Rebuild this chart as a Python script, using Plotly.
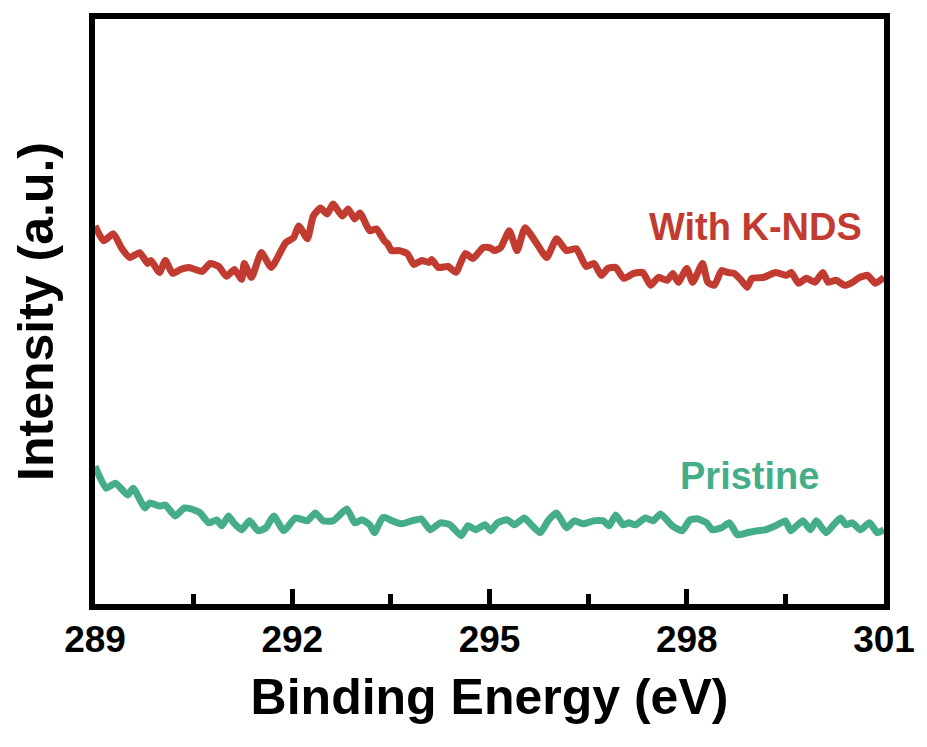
import plotly.graph_objects as go

# Binding energy (eV) and intensity (a.u.)
energy_knds = [289.00, 289.13, 289.28, 289.40, 289.53, 289.68, 289.80, 289.85, 289.98, 290.07,
               290.18, 290.30, 290.43, 290.63, 290.75, 290.88, 291.00, 291.12, 291.23, 291.27,
               291.38, 291.53, 291.68, 291.90, 292.02, 292.10, 292.23, 292.32, 292.43, 292.53,
               292.62, 292.76, 292.85, 292.95, 293.03, 293.18, 293.28, 293.40, 293.45, 293.51,
               293.63, 293.75, 293.85, 293.97, 294.08, 294.12, 294.22, 294.37, 294.49, 294.63,
               294.75, 294.90, 295.00, 295.08, 295.17, 295.30, 295.42, 295.54, 295.72, 295.87,
               296.02, 296.17, 296.32, 296.47, 296.59, 296.70, 296.80, 296.92, 297.04, 297.19,
               297.33, 297.45, 297.57, 297.70, 297.79, 297.87, 298.00, 298.09, 298.24, 298.32,
               298.42, 298.53, 298.62, 298.72, 298.83, 298.92, 298.99, 299.17, 299.35, 299.52,
               299.59, 299.70, 299.82, 299.95, 300.07, 300.15, 300.27, 300.40, 300.52, 300.63,
               300.75, 300.87, 301.00]
intensity_knds = [382, 367, 374, 360, 350, 355, 344, 347, 335, 347,
                  334, 338, 340, 336, 344, 341, 331, 338, 328, 344,
                  330, 355, 340, 365, 370, 382, 369, 392, 400, 394,
                  404, 392, 399, 389, 395, 377, 379, 367, 364, 357,
                  357, 354, 343, 347, 345, 348, 340, 341, 335, 354,
                  349, 360, 360, 357, 360, 377, 357, 380, 364, 350,
                  369, 357, 359, 341, 344, 332, 339, 340, 329, 334,
                  335, 322, 330, 327, 334, 325, 339, 325, 344, 325,
                  322, 337, 335, 334, 327, 320, 329, 330, 335, 332,
                  335, 324, 329, 325, 335, 325, 327, 322, 325, 330,
                  332, 324, 330]

energy_pristine = [289.00, 289.17, 289.31, 289.50, 289.58, 289.76, 289.83, 289.98, 290.07, 290.22,
                   290.36, 290.51, 290.60, 290.73, 290.85, 290.93, 291.03, 291.11, 291.23, 291.35,
                   291.48, 291.60, 291.72, 291.87, 292.05, 292.23, 292.35, 292.47, 292.62, 292.83,
                   292.95, 293.06, 293.18, 293.25, 293.37, 293.43, 293.52, 293.66, 293.82, 293.96,
                   294.10, 294.25, 294.40, 294.57, 294.67, 294.79, 294.93, 295.02, 295.12, 295.27,
                   295.38, 295.53, 295.65, 295.77, 295.90, 296.02, 296.17, 296.29, 296.43, 296.58,
                   296.73, 296.82, 296.92, 297.03, 297.12, 297.22, 297.37, 297.49, 297.60, 297.78,
                   297.93, 298.05, 298.17, 298.30, 298.39, 298.53, 298.65, 298.77, 298.92, 299.07,
                   299.20, 299.35, 299.50, 299.58, 299.67, 299.77, 299.88, 299.97, 300.12, 300.22,
                   300.34, 300.42, 300.52, 300.64, 300.78, 300.90, 301.00]
intensity_pristine = [139, 117, 122, 110, 117, 97, 102, 99, 100, 89,
                      97, 95, 92, 82, 85, 79, 89, 82, 75, 84,
                      74, 77, 89, 74, 87, 84, 92, 84, 84, 96,
                      82, 85, 80, 72, 87, 87, 84, 81, 84, 86,
                      75, 82, 80, 69, 79, 75, 80, 74, 82, 85,
                      80, 87, 79, 72, 85, 92, 77, 84, 81, 84,
                      84, 79, 90, 80, 82, 80, 87, 84, 91, 79,
                      74, 85, 86, 82, 75, 77, 82, 70, 72, 74,
                      75, 79, 84, 74, 79, 84, 75, 84, 72, 79,
                      87, 80, 82, 75, 82, 72, 75]

x_ticks = [289, 292, 295, 298, 301]
labels = ["With K-NDS", "Pristine"]

RED = "#C23B30"
GREEN = "#45AE89"
FONT = "Liberation Sans, Arial, sans-serif"

fig = go.Figure()
fig.add_trace(go.Scatter(x=energy_knds, y=intensity_knds, mode="lines",
                         line=dict(color=RED, width=7, shape="spline", smoothing=0.5),
                         name=labels[0], showlegend=False))
fig.add_trace(go.Scatter(x=energy_pristine, y=intensity_pristine, mode="lines",
                         line=dict(color=GREEN, width=7, shape="spline", smoothing=0.5),
                         name=labels[1], showlegend=False))

fig.add_annotation(x=299.05, y=381, xref="x", yref="y", text="<b>With K-NDS</b>",
                   showarrow=False, font=dict(family=FONT, size=38, color=RED))
fig.add_annotation(x=298.95, y=129, xref="x", yref="y", text="<b>Pristine</b>",
                   showarrow=False, font=dict(family=FONT, size=38, color=GREEN))

fig.update_layout(
    width=927, height=747,
    margin=dict(l=95, r=38, t=19, b=143),
    paper_bgcolor="white", plot_bgcolor="white",
    font=dict(family=FONT, color="black"),
)
fig.update_xaxes(
    range=[289, 301], tickvals=x_ticks, ticktext=[f"<b>{v}</b>" for v in x_ticks],
    ticks="inside", ticklen=15, tickwidth=5, tickcolor="black",
    minor=dict(ticks="inside", ticklen=10, tickwidth=5, tickcolor="black", dtick=1.5, tick0=289),
    showline=True, linewidth=6, linecolor="black", mirror=True,
    showgrid=False, zeroline=False,
    tickfont=dict(family=FONT, size=37, color="black"),
    ticklabelstandoff=-2,
    title=dict(text="<b>Binding Energy (eV)</b>", font=dict(family=FONT, size=50, color="black"), standoff=22),
)
fig.update_yaxes(
    range=[0, 591], showticklabels=False, ticks="",
    showline=True, linewidth=6, linecolor="black", mirror=True,
    showgrid=False, zeroline=False,
    title=dict(text="<b>Intensity (a.u.)</b>", font=dict(family=FONT, size=50, color="black"), standoff=22),
)

fig.write_html("out.html")
